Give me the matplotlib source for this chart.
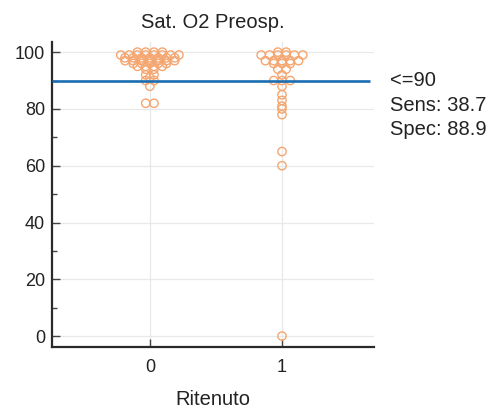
import matplotlib
matplotlib.use("Agg")
import matplotlib.pyplot as plt
import numpy as np

# Data
title = "Sat. O2 Preosp."
xlabel = "Ritenuto"
categories = ["0", "1"]

# group "0" (45 cases)
values_0 = ([100] * 4 + [99] * 8 + [98] * 7 + [97] * 7 + [96] * 5 + [95] * 4
            + [94] * 2 + [92] * 2 + [91] * 1 + [90] * 2 + [88] * 1 + [82] * 2)
# group "1" (31 cases)
values_1 = ([100] * 2 + [99] * 6 + [97] * 5 + [96] * 3 + [94] * 2 + [92] * 1
            + [90] * 3 + [88] * 1 + [85, 83, 81, 80, 78] + [65, 60, 0])

cutoff = 90
cutoff_label = "<=90"
sens = 38.7
spec = 88.9

dot_color = "#f5a670"
line_color = "#1a6db3"
text_color = "#222222"

plt.rcParams['font.family'] = ['Liberation Sans', 'DejaVu Sans']

fig = plt.figure(figsize=(4.96, 4.11), dpi=100)
ax = fig.add_axes([0.105, 0.156, 0.65, 0.742])

ax.set_xlim(-0.74, 1.70)
ax.set_ylim(-3.8, 103.6)


def swarm_offsets(vals, spacing):
    # spread equal values sideways, centred on the category
    vals = np.asarray(vals, dtype=float)
    offs = np.zeros(len(vals))
    for v in np.unique(vals):
        idx = np.where(vals == v)[0]
        k = len(idx)
        offs[idx] = (np.arange(k) - (k - 1) / 2.0) * spacing
    return offs


# horizontal spacing of ~8.3 px expressed in data units
px_per_unit = ax.transData.transform([[1, 0]])[0][0] - ax.transData.transform([[0, 0]])[0][0]
spacing = 8.3 / px_per_unit

for pos, vals in enumerate([values_0, values_1]):
    xs = pos + swarm_offsets(vals, spacing)
    ax.scatter(xs, vals, s=36, facecolors='none', edgecolors=dot_color,
               linewidths=1.0, zorder=3)

# cutoff line
ax.hlines(cutoff, -0.74, 1.667, color=line_color, linewidth=1.9, zorder=4)

# grid
ax.set_yticks(np.arange(0, 101, 20))
ax.set_yticks(np.arange(10, 100, 20), minor=True)
ax.set_xticks([0, 1])
ax.set_xticklabels(categories)
ax.grid(True, which='major', color='#e8e8e8', linewidth=0.9, zorder=0)
ax.set_axisbelow(True)

for side in ['top', 'right']:
    ax.spines[side].set_visible(False)
for side in ['left', 'bottom']:
    ax.spines[side].set_linewidth(1.6)
    ax.spines[side].set_color('#2a2a2a')

ax.tick_params(axis='y', which='major', direction='in', length=6, width=1,
               color='#444444', labelsize=13, labelcolor=text_color, pad=5)
ax.tick_params(axis='y', which='minor', direction='in', length=3.6, width=1,
               color='#444444')
ax.tick_params(axis='x', which='major', direction='in', length=6, width=1,
               color='#444444', labelsize=13, labelcolor=text_color, pad=9)

ax.set_title(title, fontsize=14.5, color=text_color, pad=10)
ax.set_xlabel(xlabel, fontsize=14.5, color=text_color, labelpad=10)

# cutoff statistics at the right
trans = ax.get_yaxis_transform()
ax.annotate(cutoff_label, xy=(1.0, cutoff), xycoords=trans, xytext=(11, 0),
            textcoords='offset points', va='center', ha='left',
            fontsize=14.5, color=text_color)
ax.annotate("Sens: %.1f" % sens, xy=(1.0, cutoff), xycoords=trans, xytext=(11, -18),
            textcoords='offset points', va='center', ha='left',
            fontsize=14.5, color=text_color)
ax.annotate("Spec: %.1f" % spec, xy=(1.0, cutoff), xycoords=trans, xytext=(11, -35.5),
            textcoords='offset points', va='center', ha='left',
            fontsize=14.5, color=text_color)

fig.savefig("out.png", dpi=100)
